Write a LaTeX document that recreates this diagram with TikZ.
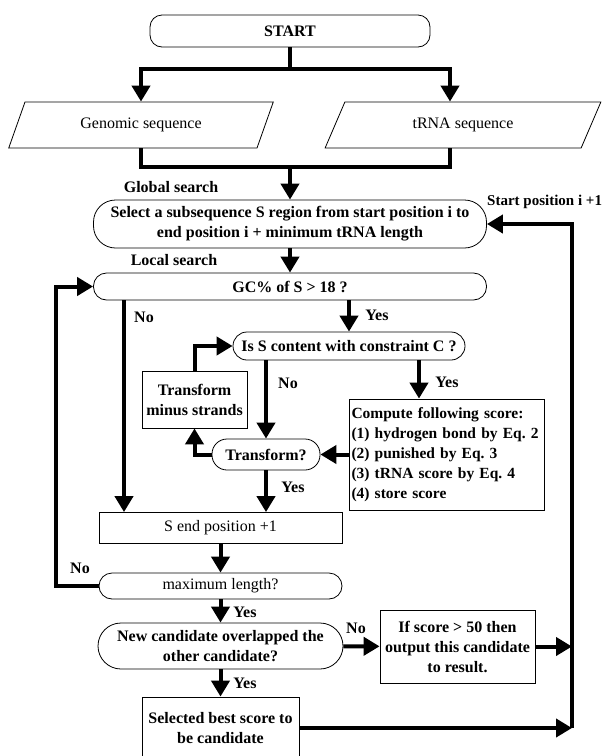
\documentclass[tikz,border=0pt]{standalone}
\usepackage{fontspec}
\setmainfont{Liberation Serif}
\usetikzlibrary{arrows.meta, shapes.geometric}
\frenchspacing
\tikzset{
    >={Triangle[length=16pt,width=18pt]}, % Big filled arrowheads
    box/.style={draw, line width=0.8pt, inner sep=2pt, align=center,
        font=\fontsize{16}{20}\selectfont\bfseries}, % Thin black frame
    rbox/.style={box, rounded corners=#1}, % Rounded terminal/decision boxes
    iobox/.style={box, trapezium, trapezium left angle=64,
        trapezium right angle=116, trapezium stretches=true}, % Input data
    regular/.style={font=\fontsize{16}{20}\selectfont}, % Upright text
    txt/.style={inner sep=0pt, font=\fontsize{16}{20}\selectfont\bfseries}, % Free labels
    flow/.style={line width=4pt}, % Thick connectors
}
\begin{document}
\begin{tikzpicture}[x=1pt, y=-1pt]
    \useasboundingbox (0,0) rectangle (609,756);

    % boxes
    \node[rbox=12pt, minimum width=280pt, minimum height=32pt] (start) at (290,31) {START};
    \node[iobox, regular, minimum width=265pt, minimum height=46pt] (genomic) at (141,125) {Genomic sequence};
    \node[iobox, regular, minimum width=276pt, minimum height=46pt] (trna) at (463,125) {tRNA sequence};
    \node[rbox=22pt, minimum width=393pt, minimum height=48pt] (select) at (290,224)
        {Select a subsequence S region from start position i to\\end position i + minimum tRNA length};
    \node[rbox=13pt, minimum width=393pt, minimum height=27pt] (gc) at (290,286.5) {GC\% of S > 18 ?};
    \node[rbox=14pt, minimum width=232pt, minimum height=28pt] (isS) at (349,346) {Is S content with constraint C ?};
    \node[box, minimum width=105pt, minimum height=57pt] (minus) at (194.5,399.5) {Transform\\minus strands};
    \node[rbox=15pt, minimum width=108pt, minimum height=31pt] (tq) at (266,454.5) {Transform?};
    \node[box, align=left, text width=191pt, inner sep=2pt, minimum height=111pt,
        font=\fontsize{15.5}{20}\selectfont\bfseries] (score) at (447,454.5)
        {Compute following score:\\(1) hydrogen bond by Eq. 2\\(2) punished by Eq. 3\\(3) tRNA score by Eq. 4\\(4) store score};
    \node[box, regular, minimum width=243pt, minimum height=31pt] (send) at (220.5,528) {S end position +1};
    \node[rbox=13pt, regular, minimum width=243pt, minimum height=26pt] (maxlen) at (220.5,586) {maximum length?};
    \node[rbox=23pt, minimum width=245pt, minimum height=46pt] (overlap) at (220.5,646)
        {New candidate overlapped the\\other candidate?};
    \node[box, minimum width=155pt, minimum height=73pt] (output) at (457.5,646.5)
        {If score > 50 then\\output this candidate\\to result.};
    \node[box, minimum width=157pt, minimum height=62pt] (best) at (220.5,728) {Selected best score to\\be candidate};

    % labels
    \node[txt] (global) at (171,187) {Global search};
    \node[txt, anchor=west, font=\fontsize{15}{18}\selectfont\bfseries] (restart) at (487,202) {Start position i +1};
    \node[txt] (local) at (174,260) {Local search};
    \node[txt] (gcNo) at (144,317) {No};
    \node[txt] (gcYes) at (377,315) {Yes};
    \node[txt] (isNo) at (288,383) {No};
    \node[txt] (isYes) at (447,382) {Yes};
    \node[txt] (tqYes) at (293,487) {Yes};
    \node[txt] (maxNo) at (80,568) {No};
    \node[txt] (maxYes) at (245,612) {Yes};
    \node[txt] (ovNo) at (356,628) {No};
    \node[txt] (ovYes) at (245,683) {Yes};

    \coordinate (split) at (290,69);
    \coordinate (join) at (290,167);
    \coordinate (noCol) at (124,0);
    \coordinate (yesCol) at (419,0);
    \coordinate (loopCol) at (56,0);
    \coordinate (backCol) at (572,0);

    % connectors
    \draw[flow] (start) -- (split);
    \draw[flow,->] (split) -| (genomic);
    \draw[flow,->] (split) -| ([xshift=-13pt]trna.north);
    \draw[flow] (genomic) |- (join) -| ([xshift=-13pt]trna.south);
    \draw[flow,->] (join) -- (select);
    \draw[flow,->] (select) -- (gc);
    \draw[flow,->] (gc.south -| noCol) -- (send.north -| noCol);
    \draw[flow,->] (isS |- gc.south) -- (isS);
    \draw[flow,->] (minus) |- (isS);
    \draw[flow,->] (isS.south -| tq) -- (tq);
    \draw[flow,->] (isS.south -| yesCol) -- (score.north -| yesCol);
    \draw[flow,->] (score) -- (tq);
    \draw[flow,->] (tq) -| (minus);
    \draw[flow,->] (tq) -- (tq |- send.north);
    \draw[flow,->] (send) -- (maxlen);
    \draw[flow,->] (maxlen) -- (maxlen -| loopCol) |- (gc);
    \draw[flow,->] (maxlen) -- (overlap);
    \draw[flow,->] (overlap) -- (output);
    \draw[flow,->] (overlap) -- (best);
    \draw[flow,->] (output) -- (output -| backCol);
    \draw[flow,->] (best) -- (best -| backCol);
    \draw[flow,->] (best -| backCol) |- (select);
\end{tikzpicture}
\end{document}
